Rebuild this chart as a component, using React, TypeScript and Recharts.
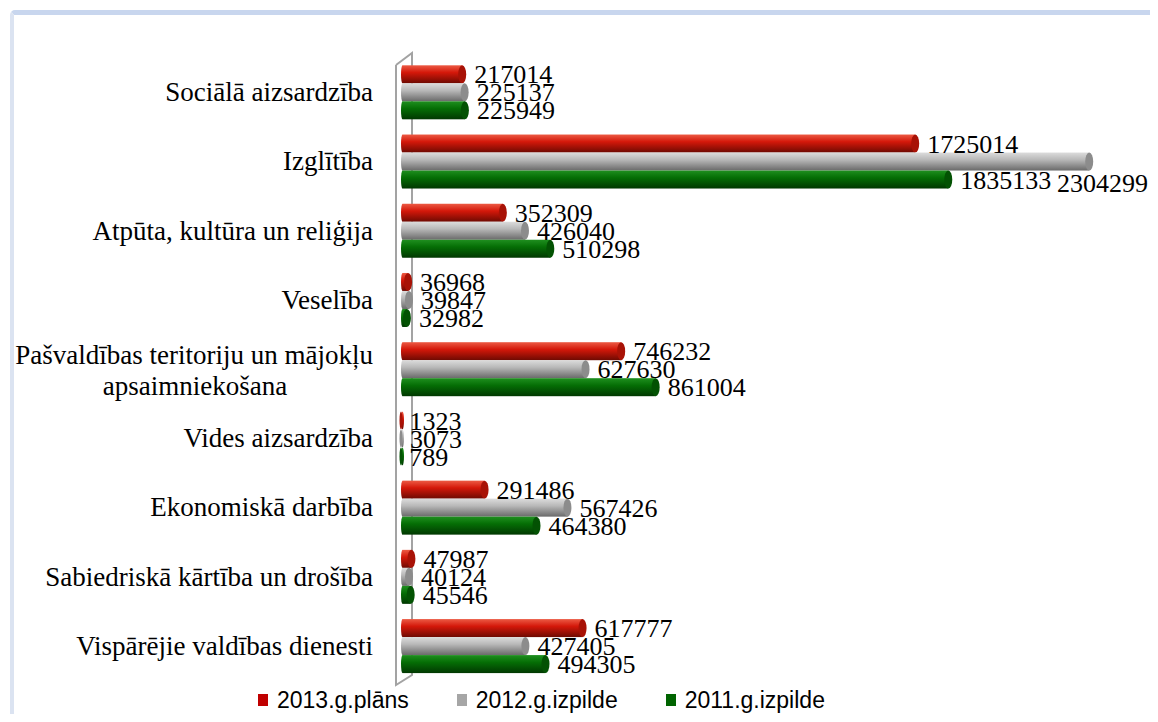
import { BarChart, Bar, XAxis, YAxis, Legend, LabelList } from "recharts";

const categories = [
  "Sociālā aizsardzība",
  "Izglītība",
  "Atpūta, kultūra un reliģija",
  "Veselība",
  "Pašvaldības teritoriju un mājokļu apsaimniekošana",
  "Vides aizsardzība",
  "Ekonomiskā darbība ",
  "Sabiedriskā kārtība un drošība",
  "Vispārējie valdības dienesti",
];
const plan2013 = [217014, 1725014, 352309, 36968, 746232, 1323, 291486, 47987, 617777];
const izpilde2012 = [225137, 2304299, 426040, 39847, 627630, 3073, 567426, 40124, 427405];
const izpilde2011 = [225949, 1835133, 510298, 32982, 861004, 789, 464380, 45546, 494305];

const seriesNames = ["2013.g.plāns", "2012.g.izpilde", "2011.g.izpilde"];

const data = categories.map((name, i) => ({
  name,
  plan2013: plan2013[i],
  izpilde2012: izpilde2012[i],
  izpilde2011: izpilde2011[i],
}));

const CHART_W = 1150;
const CHART_H = 706;
const LABEL_RIGHT = 1140; // last x a value label may reach

// gradient stops per series: top, middle, bottom, end cap
const tones: Record<string, string[]> = {
  red: ["#ec5a44", "#d4180a", "#6e0a02", "#a81206"],
  gray: ["#dcdcdc", "#b8b8b8", "#6a6a6a", "#8c8c8c"],
  green: ["#1f8f1f", "#056e05", "#013801", "#035203"],
};
const legendColors = ["#c00000", "#a6a6a6", "#006400"];

const serif = "Liberation Serif";

const Cylinder = (tone: string) => (props: any) => {
  const { x, y, width, height } = props;
  if (width == null || height == null) return null;
  const ry = height / 2;
  const rx = Math.min(4, Math.max(width / 2, 1.5));
  const w = Math.max(width - rx, 0);
  return (
    <g>
      <rect x={x + 1.5} y={y} width={Math.max(w - 1.5, 0)} height={height} fill={`url(#grad-${tone})`} />
      <ellipse cx={x + 1.5} cy={y + ry} rx={1.5} ry={ry} fill={`url(#grad-${tone})`} />
      <ellipse cx={x + w} cy={y + ry} rx={rx} ry={ry} fill={tones[tone][3]} />
    </g>
  );
};

const ValueLabel = (props: any) => {
  const { x, y, width, height, value } = props;
  const text = String(value);
  const estW = text.length * 13.5;
  let tx = x + width + 8;
  let ty = y + height / 2;
  let anchor: "start" | "end" = "start";
  // not enough room at the right edge: put the label under the bar end
  if (tx + estW > LABEL_RIGHT) {
    tx = LABEL_RIGHT;
    ty = y + height + 12;
    anchor = "end";
  }
  return (
    <text x={tx} y={ty} dy="0.35em" textAnchor={anchor} style={{ fontFamily: serif }} fontSize={26} fill="#000">
      {text}
    </text>
  );
};

const CategoryTick = (props: any) => {
  const { x, y, payload } = props;
  const label: string = payload.value;
  if (label.startsWith("Pašvaldības")) {
    return (
      <g>
        <text x={x} y={y - 14} dy="0.35em" textAnchor="end" style={{ fontFamily: serif }} fontSize={27} fill="#000">
          Pašvaldības teritoriju un mājokļu
        </text>
        <text x={x - 178} y={y + 17} dy="0.35em" textAnchor="middle" style={{ fontFamily: serif }} fontSize={27} fill="#000">
          apsaimniekošana
        </text>
      </g>
    );
  }
  return (
    <text x={x} y={y} dy="0.35em" textAnchor="end" style={{ fontFamily: serif }} fontSize={27} fill="#000">
      {label}
    </text>
  );
};

const LegendContent = () => (
  <div
    style={{
      display: "flex",
      justifyContent: "flex-start",
      gap: 48,
      fontFamily: "Liberation Sans",
      fontSize: 23,
      lineHeight: "28px",
      color: "#000",
      paddingLeft: 250,
    }}
  >
    {seriesNames.map((s, i) => (
      <span key={s} style={{ display: "flex", alignItems: "center" }}>
        <span style={{ width: 10, height: 12, background: legendColors[i], marginRight: 9, display: "inline-block" }} />
        {s}
      </span>
    ))}
  </div>
);

const App = () => (
  <div style={{ position: "relative", width: CHART_W, height: CHART_H, overflow: "hidden" }}>
    {/* frame */}
    <div
      style={{
        position: "absolute",
        left: 2,
        top: 2,
        width: 1148,
        height: 704,
        borderTop: "5px solid #c8d6ee",
        borderLeft: "4px solid #dbe3f1",
        borderTopLeftRadius: 5,
        boxSizing: "border-box",
      }}
    />
    {/* 3D wall */}
    <svg style={{ position: "absolute", left: 0, top: 0 }} width={CHART_W} height={CHART_H}>
      <polyline points="388,57 388,677 404,667 404,45 388,57" fill="none" stroke="#a3a3a3" strokeWidth={2} />
    </svg>
    <div style={{ position: "absolute", left: 0, top: 0 }}>
      <BarChart
        width={CHART_W}
        height={CHART_H}
        data={data}
        layout="vertical"
        margin={{ top: 49, right: 6, bottom: 6, left: 0 }}
        barCategoryGap="12%"
        barGap={0}
      >
        <defs>
          {Object.keys(tones).map((t) => (
            <linearGradient key={t} id={`grad-${t}`} x1="0" y1="0" x2="0" y2="1">
              <stop offset="0%" stopColor={tones[t][0]} />
              <stop offset="40%" stopColor={tones[t][1]} />
              <stop offset="100%" stopColor={tones[t][2]} />
            </linearGradient>
          ))}
        </defs>
        <XAxis type="number" domain={[0, 2500000]} hide />
        <YAxis
          type="category"
          dataKey="name"
          width={393}
          axisLine={false}
          tickLine={false}
          tickSize={0}
          tickMargin={28}
          tick={<CategoryTick />}
          interval={0}
        />
        <Legend verticalAlign="bottom" content={<LegendContent />} wrapperStyle={{ bottom: 0 }} />
        <Bar dataKey="plan2013" name={seriesNames[0]} fill={legendColors[0]} shape={Cylinder("red")} isAnimationActive={false}>
          <LabelList dataKey="plan2013" content={<ValueLabel />} />
        </Bar>
        <Bar dataKey="izpilde2012" name={seriesNames[1]} fill={legendColors[1]} shape={Cylinder("gray")} isAnimationActive={false}>
          <LabelList dataKey="izpilde2012" content={<ValueLabel />} />
        </Bar>
        <Bar dataKey="izpilde2011" name={seriesNames[2]} fill={legendColors[2]} shape={Cylinder("green")} isAnimationActive={false}>
          <LabelList dataKey="izpilde2011" content={<ValueLabel />} />
        </Bar>
      </BarChart>
    </div>
  </div>
);

export default App;
